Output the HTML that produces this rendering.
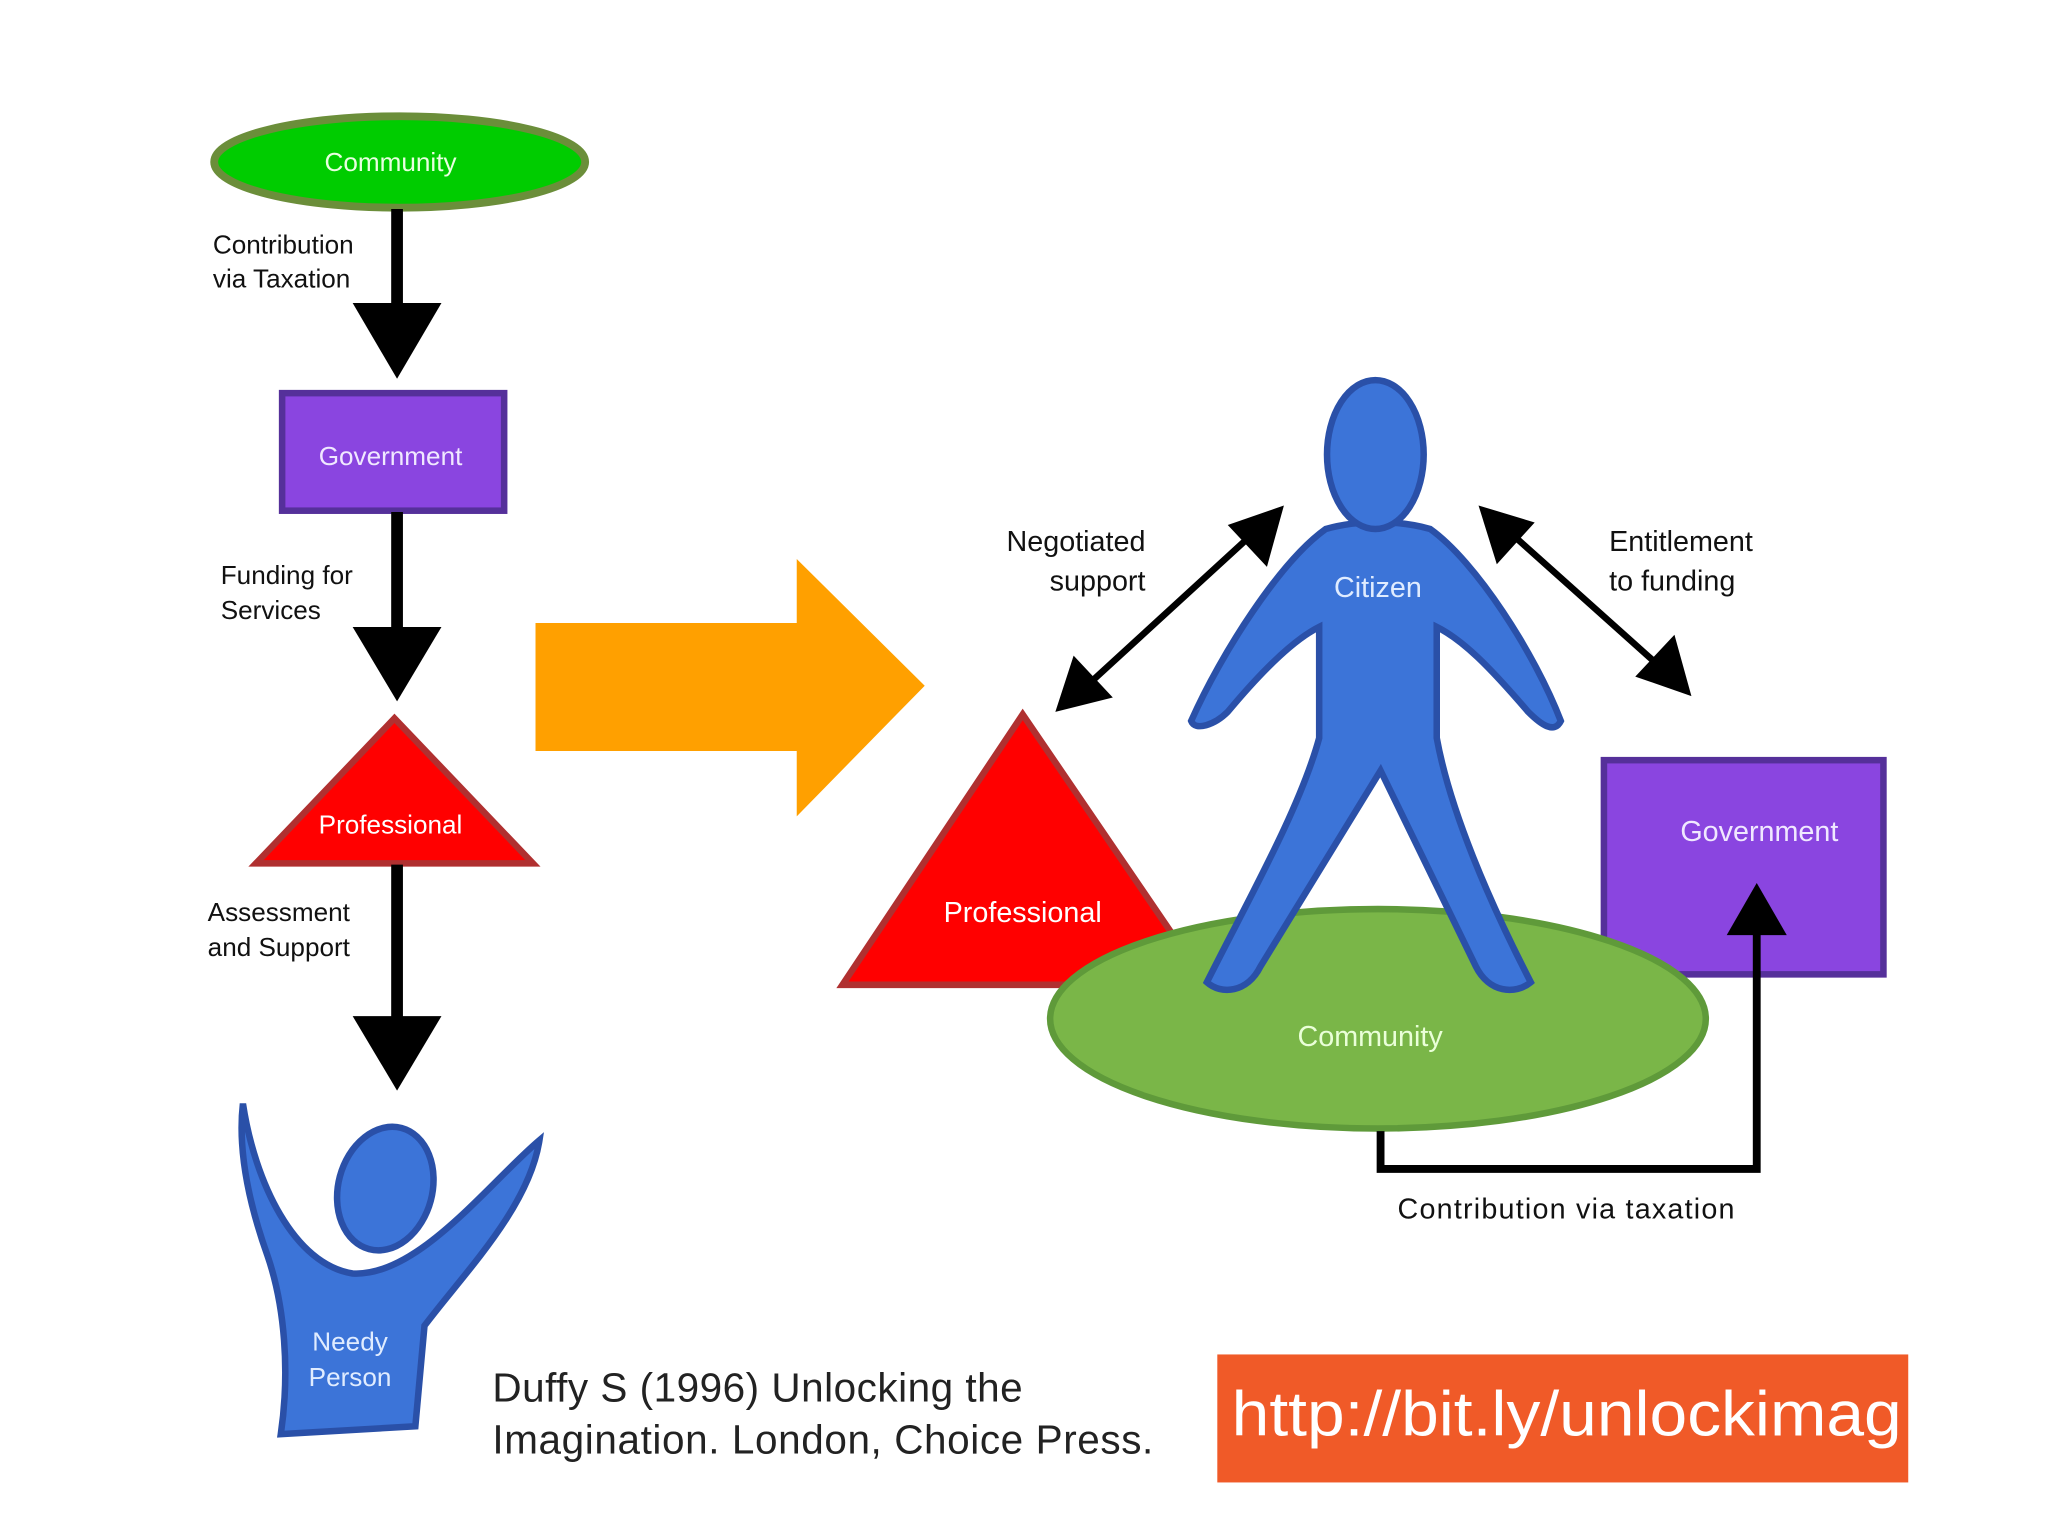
<!DOCTYPE html>
<html><head><style>html,body{margin:0;padding:0;background:#fff}svg{display:block}</style></head>
<body>
<svg width="2048" height="1536" viewBox="0 0 1568 1176" xmlns="http://www.w3.org/2000/svg" font-family="'Liberation Sans', 'DejaVu Sans', sans-serif">
<rect width="1568" height="1176" fill="#fff"/>
<!-- Left column -->
<ellipse cx="306" cy="124" rx="142" ry="35" fill="#00cc00" stroke="#6b8e3a" stroke-width="6"/>
<text x="299" y="131" font-size="20" fill="#e8ffe0" text-anchor="middle">Community</text>
<line x1="304" y1="160" x2="304" y2="240" stroke="#000" stroke-width="9"/>
<polygon points="270,232 338,232 304,290" fill="#000"/>
<text font-size="20" fill="#111"><tspan x="163" y="194">Contribution</tspan><tspan x="163" y="220">via Taxation</tspan></text>
<rect x="216" y="301" width="170" height="90" fill="#8a45e0" stroke="#55309a" stroke-width="5"/>
<text x="299" y="356" font-size="20" fill="#f0e8ff" text-anchor="middle">Government</text>
<line x1="304" y1="392" x2="304" y2="485" stroke="#000" stroke-width="9"/>
<polygon points="270,480 338,480 304,537" fill="#000"/>
<text font-size="20" fill="#111"><tspan x="169" y="447">Funding for</tspan><tspan x="169" y="474">Services</tspan></text>
<polygon points="302,550 196,661 408,661" fill="#ff0000" stroke="#b03030" stroke-width="5"/>
<text x="299" y="638" font-size="20" fill="#fff" text-anchor="middle">Professional</text>
<line x1="304" y1="662" x2="304" y2="785" stroke="#000" stroke-width="9"/>
<polygon points="270,778 338,778 304,835" fill="#000"/>
<text font-size="20" fill="#111"><tspan x="159" y="705">Assessment</tspan><tspan x="159" y="732">and Support</tspan></text>
<path d="M186,845 C195,905 225,968 270,975 C320,978 375,905 413,873 C405,925 355,975 325,1015 L318,1092 L215,1098 C222,1050 218,1000 205,962 C190,920 182,880 186,845 Z" fill="#3c74d8" stroke="#2a50a8" stroke-width="5"/>
<ellipse cx="295" cy="910" rx="36" ry="48" transform="rotate(15 295 910)" fill="#3c74d8" stroke="#2a50a8" stroke-width="5"/>
<text font-size="20" fill="#e0ecff" text-anchor="middle"><tspan x="268" y="1034">Needy</tspan><tspan x="268" y="1061">Person</tspan></text>
<!-- Orange arrow -->
<polygon points="410,477 610,477 610,428 708,525 610,625 610,575 410,575" fill="#ffa000"/>
<!-- Right -->
<polygon points="783,547 645,754 924,754" fill="#ff0000" stroke="#b03030" stroke-width="5"/>
<text x="783" y="706" font-size="22" fill="#fff" text-anchor="middle">Professional</text>
<rect x="1228" y="582" width="214" height="164" fill="#8a45e0" stroke="#55309a" stroke-width="5"/>
<text x="1347" y="644" font-size="22" fill="#f0e8ff" text-anchor="middle">Government</text>
<ellipse cx="1055" cy="780" rx="251" ry="84" fill="#7ab648" stroke="#5f9a3a" stroke-width="5"/>
<text x="1049" y="801" font-size="22" fill="#eaffd8" text-anchor="middle">Community</text>
<path d="M1015,405 C1040,398 1070,398 1095,405 C1130,430 1175,500 1195,552 C1190,562 1180,555 1170,545 C1140,510 1120,490 1100,480 L1100,565 C1110,620 1140,690 1172,752 C1160,762 1140,760 1130,740 L1057,590 L965,740 C955,760 935,762 924,752 C955,690 995,620 1010,565 L1010,480 C990,490 965,515 940,545 C930,555 915,560 912,552 C935,500 980,430 1015,405 Z" fill="#3c74d8" stroke="#2a50a8" stroke-width="5"/>
<ellipse cx="1053" cy="348" rx="37" ry="57" fill="#3c74d8" stroke="#2a50a8" stroke-width="5"/>
<text x="1055" y="457" font-size="22" fill="#e0ecff" text-anchor="middle">Citizen</text>
<!-- double arrows -->
<line x1="830" y1="527" x2="962" y2="406" stroke="#000" stroke-width="5"/>
<polygon points="808,545 822,502 852,534" fill="#000"/>
<polygon points="983,387 940,402 970,434" fill="#000"/>
<line x1="1152" y1="404" x2="1276" y2="515" stroke="#000" stroke-width="5"/>
<polygon points="1132,387 1175,400 1146,432" fill="#000"/>
<polygon points="1295,533 1252,518 1282,486" fill="#000"/>
<text font-size="22" fill="#111" text-anchor="end"><tspan x="877" y="422">Negotiated</tspan><tspan x="877" y="452">support</tspan></text>
<text font-size="22" fill="#111"><tspan x="1232" y="422">Entitlement</tspan><tspan x="1232" y="452">to funding</tspan></text>
<!-- taxation connector -->
<polyline points="1057,866 1057,895 1345,895 1345,705" fill="none" stroke="#000" stroke-width="6"/>
<polygon points="1322,716 1368,716 1345,676" fill="#000"/>
<text x="1070" y="933" font-size="22" fill="#111" textLength="258">Contribution via taxation</text>
<!-- citation -->
<text font-size="31" fill="#222"><tspan x="377" y="1073" textLength="406">Duffy S (1996) Unlocking the</tspan><tspan x="377" y="1113" textLength="506">Imagination. London, Choice Press.</tspan></text>
<rect x="932" y="1037" width="529" height="98" fill="#f05a28"/>
<text x="943" y="1099" font-size="48" fill="#fff" textLength="513" lengthAdjust="spacingAndGlyphs">http://bit.ly/unlockimag</text>
</svg>
</body></html>
